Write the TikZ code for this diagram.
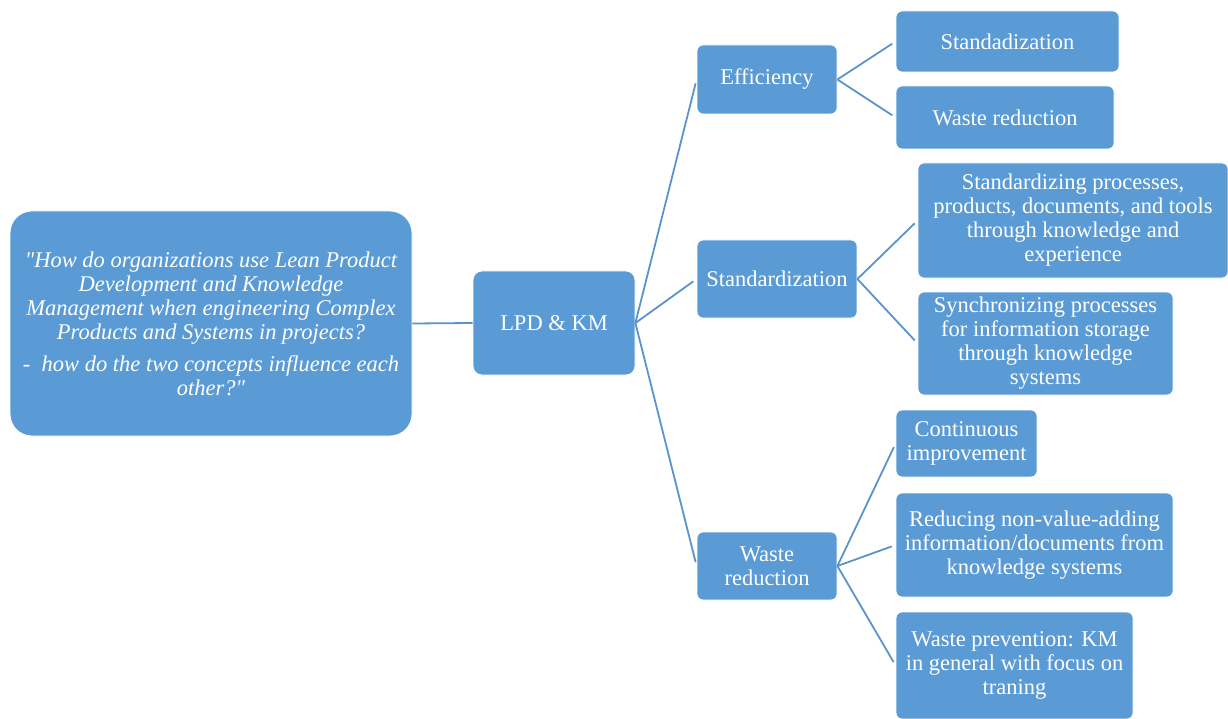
\documentclass[tikz,border=0pt]{standalone}
\usepackage{fontspec}
\setmainfont{Liberation Serif}[Ligatures=TeXOff]

\definecolor{boxblue}{HTML}{5B9BD5}
\definecolor{lineblue}{HTML}{5B93CC}

\tikzset{
  box/.style={fill=boxblue, draw=white, line width=0.8pt, rounded corners=6pt,
    text=white, align=center, inner sep=0pt,
    font=\fontsize{22.5}{24}\selectfont},
  link/.style={draw=lineblue, line width=1.8pt, shorten >=4pt},
}

\begin{document}
\begin{tikzpicture}[x=1pt,y=-1pt]
    \useasboundingbox (0,0) rectangle (1228,719);

    % question and main topic
    \node[box, rounded corners=22pt, minimum width=402, minimum height=225,
      font=\fontsize{22.5}{24}\selectfont\itshape] (question) at (211,323.5)
      {"How do organizations use Lean Product\\ Development and Knowledge\\
       Management when engineering Complex\\ Products and Systems in projects?\\[8pt]
       -\ \ how do the two concepts influence each\\ other?"};
    \node[box, rounded corners=9pt, minimum width=162, minimum height=104] (lpdkm) at (554,323) {LPD \& KM};

    % second level
    \node[box, minimum width=140, minimum height=69] (eff) at (767,79.5) {Efficiency};
    \node[box, minimum width=160, minimum height=78] (std) at (777,279) {Standardization};
    \node[box, minimum width=140, minimum height=68] (waste) at (767,566) {Waste\\ reduction};

    % third level
    \node[box, minimum width=223, minimum height=61] (effstd) at (1007.5,41.5) {Standadization};
    \node[box, minimum width=218, minimum height=63] (effwaste) at (1005,117.5) {Waste reduction};
    \node[box, minimum width=310, minimum height=115] (stdproc) at (1073,220.5)
      {Standardizing processes,\\ products, documents, and tools\\ through knowledge and\\ experience};
    \node[box, minimum width=255, minimum height=103] (stdsync) at (1045.5,343.5)
      {Synchronizing processes\\ for information storage\\ through knowledge\\ systems};
    \node[box, minimum width=141, minimum height=67] (cont) at (966.5,443.5) {Continuous\\ improvement};
    \node[box, minimum width=277, minimum height=104] (reduce) at (1034.5,545)
      {Reducing non-value-adding\\ information/documents from\\ knowledge systems};
    \node[box, minimum width=237, minimum height=107] (prevent) at (1014.5,665.5)
      {Waste prevention: KM\\ in general with focus on\\ traning};

    % connectors
    \draw[link, shorten >=0pt] (question.east) -- (lpdkm.west);
    \foreach \child in {eff, std, waste}
      \draw[link] (lpdkm.east) -- (\child.west);
    \foreach \child in {effstd, effwaste}
      \draw[link] (eff.east) -- (\child.west);
    \foreach \child in {stdproc, stdsync}
      \draw[link] (std.east) -- (\child.west);
    \foreach \child in {cont, reduce, prevent}
      \draw[link] (waste.east) -- (\child.west);
\end{tikzpicture}
\end{document}
